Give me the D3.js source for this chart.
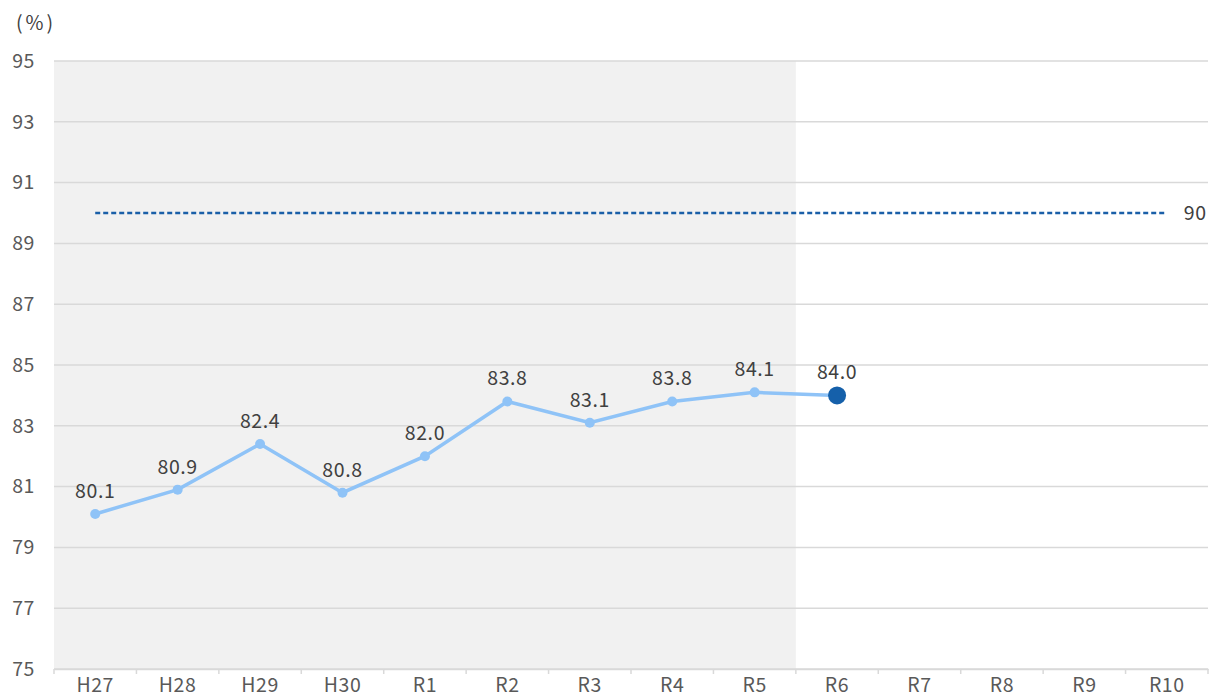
<!DOCTYPE html>
<html>
<head>
<meta charset="utf-8">
<script src="https://cdn.jsdelivr.net/npm/d3@7"></script>
<style>
    body { margin: 0; background: #fff; }
    svg text { font-family: "Noto Sans CJK JP", "Noto Sans", sans-serif; letter-spacing: 0.6px; }
</style>
</head>
<body>
<svg id="chart"></svg>
<script>
const categories = ["H27", "H28", "H29", "H30", "R1", "R2", "R3", "R4", "R5", "R6", "R7", "R8", "R9", "R10"];
const values = [80.1, 80.9, 82.4, 80.8, 82.0, 83.8, 83.1, 83.8, 84.1, 84.0];
const yTicks = [75, 77, 79, 81, 83, 85, 87, 89, 91, 93, 95];
const target = 90;
const shadedUntil = "R5";

const width = 1211, height = 697;
const margin = { top: 61, right: 3, bottom: 28, left: 54 };
const fontSize = "19.5px";

const svg = d3.select("#chart").attr("width", width).attr("height", height);

const x = d3.scaleBand().domain(categories).range([margin.left, width - margin.right]);
const y = d3.scaleLinear().domain([75, 95]).range([height - margin.bottom, margin.top]);
const cx = d => x(d) + x.bandwidth() / 2;

// shaded past period
svg.append("rect")
    .attr("x", margin.left)
    .attr("y", y(95))
    .attr("width", x(shadedUntil) + x.bandwidth() - margin.left)
    .attr("height", y(75) - y(95))
    .attr("fill", "#f1f1f1");

// gridlines
svg.append("g")
    .selectAll("line")
    .data(yTicks)
    .join("line")
    .attr("x1", margin.left)
    .attr("x2", width - margin.right)
    .attr("y1", d => y(d))
    .attr("y2", d => y(d))
    .attr("stroke", "#d9d9d9")
    .attr("stroke-width", 1.5);

// y axis labels
svg.append("g")
    .attr("transform", `translate(${margin.left}, 0)`)
    .call(d3.axisLeft(y).tickValues(yTicks).tickSize(0).tickPadding(19))
    .call(g => g.select(".domain").remove())
    .call(g => g.selectAll("text")
        .attr("fill", "#595959")
        .style("font-size", fontSize)
        .style("font-family", "'Noto Sans CJK JP', sans-serif"));

svg.append("text")
    .attr("x", 16)
    .attr("y", 30)
    .attr("fill", "#404040")
    .style("font-size", fontSize)
    .style("letter-spacing", "3px")
    .text("(%)");

// x axis
const xAxis = svg.append("g")
    .attr("transform", `translate(0, ${y(75)})`)
    .call(d3.axisBottom(x).tickSize(0).tickPadding(9))
    .call(g => g.select(".domain").attr("stroke", "#d9d9d9").attr("stroke-width", 1.5))
    .call(g => g.selectAll("text")
        .attr("fill", "#595959")
        .style("font-size", fontSize)
        .style("font-family", "'Noto Sans CJK JP', sans-serif"));

xAxis.selectAll(".sep")
    .data(categories.map(c => x(c)).concat([x(categories[categories.length - 1]) + x.bandwidth()]))
    .join("line")
    .attr("class", "sep")
    .attr("x1", d => d)
    .attr("x2", d => d)
    .attr("y1", 0)
    .attr("y2", 5)
    .attr("stroke", "#d9d9d9")
    .attr("stroke-width", 1.5);

// target line
svg.append("line")
    .attr("x1", cx(categories[0]))
    .attr("x2", cx(categories[categories.length - 1]))
    .attr("y1", y(target))
    .attr("y2", y(target))
    .attr("stroke", "#1a5fa8")
    .attr("stroke-width", 2.5)
    .attr("stroke-dasharray", "5,3");

svg.append("text")
    .attr("x", cx(categories[categories.length - 1]) + 17)
    .attr("y", y(target))
    .attr("dy", "0.35em")
    .attr("fill", "#404040")
    .style("font-size", fontSize)
    .text(target);

// series
const points = values.map((v, i) => ({ cat: categories[i], value: v }));
const line = d3.line().x(d => cx(d.cat)).y(d => y(d.value));

svg.append("path")
    .datum(points)
    .attr("fill", "none")
    .attr("stroke", "#8fc3f7")
    .attr("stroke-width", 3.5)
    .attr("d", line);

svg.append("g")
    .selectAll("circle")
    .data(points)
    .join("circle")
    .attr("cx", d => cx(d.cat))
    .attr("cy", d => y(d.value))
    .attr("r", (d, i) => i === points.length - 1 ? 9 : 5)
    .attr("fill", (d, i) => i === points.length - 1 ? "#1560aa" : "#8fc3f7");

svg.append("g")
    .selectAll("text")
    .data(points)
    .join("text")
    .attr("x", d => cx(d.cat))
    .attr("y", d => y(d.value) - 16)
    .attr("text-anchor", "middle")
    .attr("fill", "#404040")
    .style("font-size", fontSize)
    .text(d => d.value.toFixed(1));
</script>
</body>
</html>
